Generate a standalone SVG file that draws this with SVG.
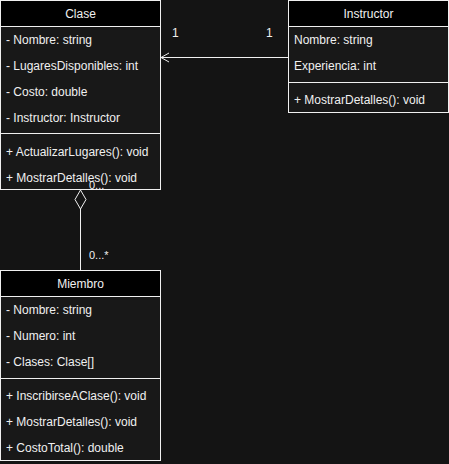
<svg xmlns="http://www.w3.org/2000/svg" width="449" height="464" viewBox="0 0 449 464">
<style>
.bg{fill:#141414}
.body{fill:#181818;stroke:#f0f0f0;stroke-width:1}
.head{fill:#000000;stroke:#f0f0f0;stroke-width:1}
.div{stroke:#f0f0f0;stroke-width:1}
text{font-family:"Liberation Sans",Arial,sans-serif;font-size:12px;fill:#f0f0f0}
.t{text-anchor:middle}
.lbl{font-size:11px}
.edge{stroke:#f0f0f0;stroke-width:1;fill:none}
</style>
<rect class="bg" x="0" y="0" width="449" height="464"/>
<g id="clase">
<rect class="body" x="0.5" y="0.5" width="160" height="189"/>
<rect class="head" x="0.5" y="0.5" width="160" height="26"/>
<line class="div" x1="0.5" y1="133.5" x2="160.5" y2="133.5"/>
<text class="t" x="80.5" y="18">Clase</text>
<text x="6" y="44">- Nombre: string</text>
<text x="6" y="70">- LugaresDisponibles: int</text>
<text x="6" y="96">- Costo: double</text>
<text x="6" y="122">- Instructor: Instructor</text>
<text x="6" y="156">+ ActualizarLugares(): void</text>
<text x="6" y="182">+ MostrarDetalles(): void</text>
</g>
<g id="instructor">
<rect class="body" x="288.5" y="0.5" width="160" height="112"/>
<rect class="head" x="288.5" y="0.5" width="160" height="26"/>
<line class="div" x1="288.5" y1="82.5" x2="448.5" y2="82.5"/>
<text class="t" x="368.5" y="18">Instructor</text>
<text x="294" y="44">Nombre: string</text>
<text x="294" y="70">Experiencia: int</text>
<text x="294" y="104">+ MostrarDetalles(): void</text>
</g>
<g id="miembro">
<rect class="body" x="0.5" y="270.5" width="160" height="190"/>
<rect class="head" x="0.5" y="270.5" width="160" height="26"/>
<line class="div" x1="0.5" y1="378.5" x2="160.5" y2="378.5"/>
<text class="t" x="80.5" y="288">Miembro</text>
<text x="6" y="314">- Nombre: string</text>
<text x="6" y="340">- Numero: int</text>
<text x="6" y="366">- Clases: Clase[]</text>
<text x="6" y="400">+ InscribirseAClase(): void</text>
<text x="6" y="426">+ MostrarDetalles(): void</text>
<text x="6" y="452">+ CostoTotal(): double</text>
</g>
<g id="connectors">
<line class="edge" x1="288" y1="57.5" x2="161" y2="57.5"/>
<polyline class="edge" points="169,53 161,57.5 169,62"/>
<text x="172" y="37">1</text>
<text x="266" y="37">1</text>
<polygon class="edge" fill="#181818" points="80.5,190 86,199.5 80.5,209 75,199.5"/>
<line class="edge" x1="80.5" y1="209" x2="80.5" y2="270"/>
<text class="lbl" x="89" y="189">0...</text>
<text class="lbl" x="89" y="259">0...*</text>
</g>
</svg>
